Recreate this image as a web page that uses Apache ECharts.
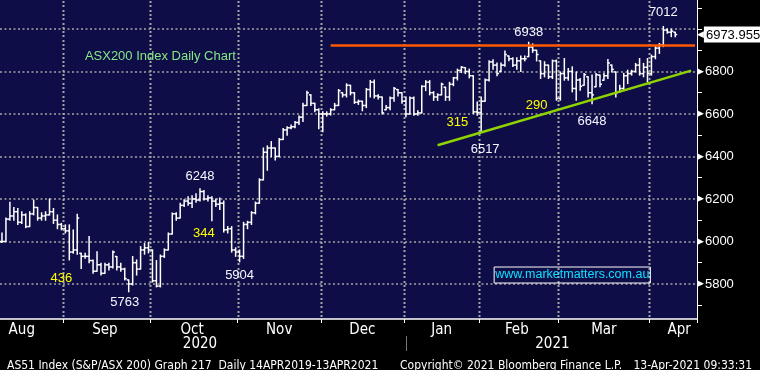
<!DOCTYPE html>
<html><head><meta charset="utf-8">
<script src="https://cdn.jsdelivr.net/npm/echarts@6/dist/echarts.min.js"></script>
<style>html,body{margin:0;padding:0;background:#000;}#c{width:760px;height:370px;}</style>
</head><body><div id="c"></div>
<script>
// ---- calendar (ASX trading days shown on the axis) ----
const axisStart = '2020-08-10';
const axisEnd = '2021-04-20';
const holidays = ['2020-12-25','2020-12-28','2021-01-01','2021-01-26','2021-04-02','2021-04-05'];

// ---- daily bars (ASX200), one entry per trading day from 10-Aug-2020 ----
const highs = [6040,6110,6185,6160,6155,6140,6130,6140,6195,6160,6135,6140,6200,6155,6125,6085,
6078,6078,6054,6128,5944,5944,6023,5913,5952,5897,5897,5897,5955,5929,5897,5874,5819,5929,5913,5976,5990,5995,
5960,5910,5936,5965,6040,6134,6135,6180,6196,6210,6215,6225,6248,6240,6215,6210,6200,6205,6190,6070,6070,5970,
5960,6090,6095,6140,6185,6295,6440,6450,6470,6440,6485,6532,6540,6548,6565,6590,6650,6707,6690,6650,6625,
6610,6610,6625,6650,6715,6700,6742,6735,6700,6665,6660,6720,6758,6760,6690,6680,6640,6680,6725,6715,6700,
6680,6680,6680,6615,6733,6757,6757,6705,6695,6745,6726,6749,6772,6811,6823,6818,6811,6780,6656,
6680,6765,6850,6855,6840,6840,6896,6873,6865,6865,6873,6873,6938,6930,6900,6850,6846,6830,6854,6854,
6798,6861,6814,6822,6798,6767,6791,6775,6783,6791,6783,6791,6857,6830,6798,6735,6791,6806,6806,6838,6861,6838,6861,
6877,6917,6932,7012,7000,7000,6985];
const lows = [5995,6000,6100,6100,6080,6085,6065,6070,6125,6100,6100,6100,6125,6085,6060,6055,
6040,5913,5945,5940,5873,5921,5900,5850,5860,5842,5850,5866,5875,5866,5860,5819,5763,5795,5842,5870,5940,5946,
5809,5786,5786,5925,5960,6035,6100,6110,6165,6170,6160,6185,6190,6195,6190,6098,6165,6150,6045,6040,5950,5930,
5904,5920,6060,6080,6130,6180,6290,6335,6400,6383,6400,6480,6500,6530,6535,6550,6565,6640,6640,6610,6530,
6516,6590,6595,6620,6640,6680,6680,6690,6650,6645,6615,6630,6680,6675,6670,6600,6620,6620,6660,6685,6650,
6587,6600,6594,6594,6605,6710,6690,6664,6664,6690,6664,6664,6733,6760,6795,6790,6770,6602,6594,
6517,6660,6755,6811,6780,6800,6825,6850,6823,6811,6800,6850,6870,6890,6850,6767,6775,6767,6767,6665,
6665,6759,6759,6704,6665,6712,6735,6680,6648,6728,6728,6759,6767,6798,6680,6704,6712,6743,6783,6798,6783,6775,6751,
6783,6860,6885,6917,6980,6964,6964];
const closes = [6000,6105,6120,6140,6090,6125,6070,6130,6160,6110,6120,6125,6140,6100,6080,6060,
6050,5950,5960,6110,5930,5930,5910,5860,5890,5850,5890,5880,5950,5880,5870,5825,5800,5900,5870,5960,5970,5960,
5815,5790,5930,5960,6035,6130,6110,6170,6190,6180,6200,6195,6235,6200,6205,6190,6175,6180,6055,6060,5960,5950,
5930,6080,6090,6135,6180,6290,6420,6440,6440,6400,6480,6525,6535,6540,6560,6585,6640,6700,6650,6620,6600,
6600,6600,6620,6640,6710,6690,6735,6700,6655,6660,6640,6715,6750,6685,6680,6605,6630,6675,6720,6700,6660,
6600,6675,6600,6605,6730,6750,6700,6680,6690,6740,6680,6740,6770,6805,6820,6800,6780,6610,6607,
6660,6760,6845,6830,6790,6830,6880,6860,6830,6850,6860,6860,6915,6900,6880,6790,6830,6775,6850,6673,
6790,6770,6800,6720,6760,6730,6785,6700,6690,6785,6740,6780,6840,6810,6700,6720,6780,6790,6800,6830,6790,6820,6790,
6870,6910,6925,6995,6985,6990,6973.955];

// ---- axis labels ----
const monthNames = ['Jan','Feb','Mar','Apr','May','Jun','Jul','Aug','Sep','Oct','Nov','Dec'];
const monthLabelDates = ['2020-08-17','2020-09-15','2020-10-15','2020-11-16','2020-12-15','2021-01-15','2021-02-12','2021-03-16','2021-04-14'];
const yearLabelDates = ['2020-10-19','2021-02-25'];
const yearBreakDate = '2021-01-04';
const yLabelValues = [5800,6000,6200,6400,6600,6800];
const yGridValues = [5800,6000,6200,6400,6600,6800,7000];
const yTickValues = [5700,5800,5900,6000,6100,6200,6300,6400,6500,6600,6700,6800,6900,7000,7100];
const yMin = 5635, yMax = 7136.5;

// ---- overlays ----
const resistanceLevel = 6925;
const resistanceRange = ['2020-12-03','2021-04-20'];
const trendStart = ['2021-01-14', 6453];
const trendEnd = ['2021-04-19', 6804];
const lastPrice = 6973.955;
const whiteNotes = [['6248','2020-10-19',6304],['5763','2020-09-22',5711],['5904','2020-11-02',5842],
  ['6517','2021-02-02',6431],['6648','2021-03-11',6567],['6938','2021-02-17',6986],['7012','2021-04-08',7080]];
const yellowNotes = [['436','2020-08-31',5828],['344','2020-10-20',6040],['315','2021-01-21',6558],['290','2021-02-19',6642]];
const chartTitle = ['ASX200 Index Daily Chart','2020-10-05',6873];
const siteNote = ['www.marketmatters.com.au','2021-03-04',5842];
const footer = ['AS51 Index (S&P/ASX 200) Graph 217  Daily 14APR2019-13APR2021','Copyright© 2021 Bloomberg Finance L.P.','13-Apr-2021 09:33:31'];

// build trading-day list
function fmt(d){return d.toISOString().slice(0,10);}
const dates = [];
for (let d = new Date(axisStart+'T00:00:00Z'); fmt(d) <= axisEnd; d.setUTCDate(d.getUTCDate()+1)) {
  const wd = d.getUTCDay(); const s = fmt(d);
  if (wd !== 0 && wd !== 6 && holidays.indexOf(s) < 0) dates.push(s);
}
const monthStart = new Set();
for (let i = 1; i < dates.length; i++) if (dates[i].slice(5,7) !== dates[i-1].slice(5,7)) monthStart.add(dates[i]);

const bars = closes.map((c, i) => {
  const prev = i === 0 ? c : closes[i-1];
  const o = Math.min(highs[i], Math.max(lows[i], prev));
  return [i, o, highs[i], lows[i], c];
});

const F = "'Liberation Sans', Arial, sans-serif";
const FN = "'Liberation Sans Narrow', 'DejaVu Sans Condensed', 'Liberation Sans', sans-serif";
const GRID_COLOR = '#a4a4a4';
const dotted = {color:GRID_COLOR, width:1.5, type:[2,2.5]};

const notes = [];
whiteNotes.forEach(n => notes.push({name:n[0], coord:[n[1], n[2]], label:{color:'#f4f8ff'}}));
yellowNotes.forEach(n => notes.push({name:n[0], coord:[n[1], n[2]], label:{color:'#ffff00'}}));
notes.push({name:chartTitle[0], coord:[chartTitle[1], chartTitle[2]], label:{color:'#86e886'}});
notes.push({name:siteNote[0], coord:[siteNote[1], siteNote[2]], label:{color:'#10e0ff', fontSize:12.5, borderColor:'#fff', borderWidth:1, padding:[2,1,1,1]}});

const chart = echarts.init(document.getElementById('c'), null, {renderer:'canvas'});
chart.setOption({
  animation:false,
  backgroundColor:'#000',
  title: [
    {text:footer[0], left:2, top:355, textStyle:{color:'#fff', fontSize:12, fontWeight:'normal', fontFamily:FN}},
    {text:footer[1], left:395, top:355, textStyle:{color:'#fff', fontSize:12, fontWeight:'normal', fontFamily:FN}},
    {text:footer[2], right:3, top:355, textStyle:{color:'#fff', fontSize:12, fontWeight:'normal', fontFamily:FN}}
  ],
  grid:{left:0, right:63, top:0, bottom:51, show:true, backgroundColor:'#0f0d47', borderWidth:0},
  xAxis:[{
    type:'category', data:dates, boundaryGap:true, position:'bottom', z:1,
    axisLine:{lineStyle:{color:'#fff', width:1.5}},
    axisTick:{show:true, interval:(i,v)=>monthStart.has(v), length:4, lineStyle:{color:'#fff'}},
    axisLabel:{interval:(i,v)=>monthLabelDates.indexOf(v)>=0, formatter:v=>monthNames[+v.slice(5,7)-1],
      color:'#fff', fontSize:15, fontFamily:FN, margin:4},
    splitLine:{show:false}
  },{
    type:'category', data:dates, boundaryGap:true, position:'bottom', offset:17, z:1,
    axisLine:{show:false},
    axisTick:{show:true, alignWithLabel:true, interval:(i,v)=>v===yearBreakDate, length:15, lineStyle:{color:'#777'}},
    axisLabel:{interval:(i,v)=>yearLabelDates.indexOf(v)>=0, formatter:v=>v.slice(0,4),
      color:'#fff', fontSize:15, fontFamily:FN, margin:1},
    splitLine:{show:false}
  }],
  yAxis:[{
    type:'value', position:'right', min:yMin, max:yMax, z:1,
    axisLine:{show:true, lineStyle:{color:'#fff', width:1}},
    axisTick:{show:true, customValues:yTickValues, length:5, lineStyle:{color:'#fff'}},
    axisLabel:{customValues:yLabelValues, margin:0, color:'#fff', fontSize:13, fontFamily:F,
      formatter:v=>'{t|\u25B6}'+v, rich:{t:{fontSize:9, color:'#fff', fontFamily:'DejaVu Sans', padding:[0,1,0,0]}}},
    splitLine:{show:false}
  },{
    type:'value', position:'right', min:yMin, max:yMax, z:1,
    axisLine:{show:false}, axisTick:{show:false, customValues:yGridValues}, axisLabel:{show:false},
    splitLine:{show:true, lineStyle:dotted}
  }],
  series:[{
    type:'custom', xAxisIndex:0, yAxisIndex:0, clip:true, z:3,
    data:bars,
    encode:{x:0, y:[1,2,3,4]},
    renderItem:function(params, api){
      const i = api.value(0);
      const pH = api.coord([i, api.value(2)]);
      const pL = api.coord([i, api.value(3)]);
      const pO = api.coord([i, api.value(1)]);
      const pC = api.coord([i, api.value(4)]);
      const w = api.size([1,0])[0]*0.5;
      const x = pH[0];
      const st = {stroke:'#fff', lineWidth:1.5};
      const kids = [];
      // dotted month gridline on the boundary before the first trading day of each month
      if (monthStart.has(dates[i])) {
        const cs = params.coordSys;
        const gx = Math.round(x - w);
        for (let y = cs.y + 1; y < cs.y + cs.height; y += 4.3) {
          kids.push({type:'rect', shape:{x:gx-0.5, y:Math.round(y), width:2, height:2}, style:{fill:GRID_COLOR}});
        }
      }
      kids.push({type:'line', shape:{x1:x, y1:pH[1]-0.5, x2:x, y2:pL[1]+0.5}, style:st});
      kids.push({type:'line', shape:{x1:x-w, y1:pO[1], x2:x, y2:pO[1]}, style:st});
      kids.push({type:'line', shape:{x1:x, y1:pC[1], x2:x+w, y2:pC[1]}, style:st});
      return {type:'group', children:kids};
    },
    markLine:{
      silent:true, symbol:'none', animation:false,
      data:[
        [{coord:[resistanceRange[0], resistanceLevel], lineStyle:{color:'#ff5a00', width:2.5, type:'solid'}, label:{show:false}},
         {coord:[resistanceRange[1], resistanceLevel]}],
        [{coord:trendStart, lineStyle:{color:'#8fd400', width:2.5, type:'solid'}, label:{show:false}},
         {coord:trendEnd}],
        {yAxis:lastPrice, lineStyle:{color:'rgba(0,0,0,0)', width:1, type:'solid'},
         label:{show:true, position:'end', distance:0, formatter:'{a|\u25C0}{b|'+lastPrice.toFixed(3)+'}',
           rich:{a:{color:'#fff', fontSize:9, fontFamily:'DejaVu Sans'},
                 b:{backgroundColor:'#fff', color:'#000', fontSize:13, fontFamily:F, padding:[2,2,1,2]}}}}
      ]
    },
    markPoint:{
      silent:true, symbol:'rect', symbolSize:1, itemStyle:{color:'rgba(0,0,0,0)'},
      label:{show:true, position:'inside', formatter:'{b}', fontSize:13, fontFamily:F},
      data:notes
    }
  }]
});
</script>
</body></html>
